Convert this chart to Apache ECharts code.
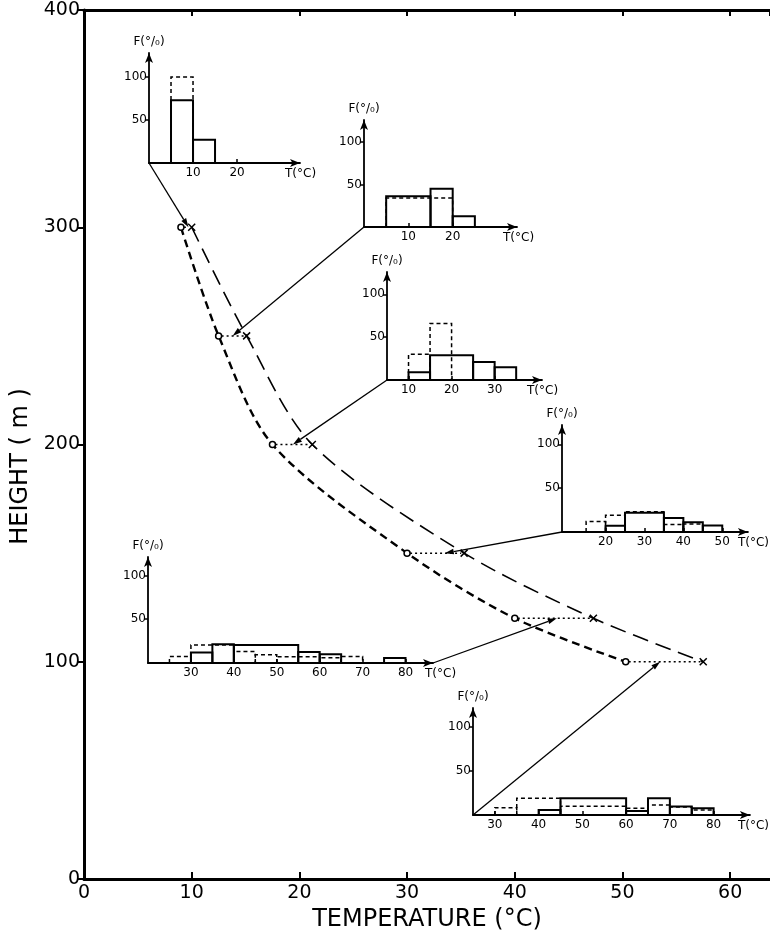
<!DOCTYPE html>
<html><head><meta charset="utf-8">
<script src="https://cdn.jsdelivr.net/npm/echarts@6/dist/echarts.min.js"></script>
<style>html,body{margin:0;padding:0;background:#fff}#c{width:770px;height:938px}</style>
</head><body><div id="c"></div>
<script>
// ---- main chart data ----
const heights = [300, 250, 200, 150, 120, 100];
const tempCircle = [9, 12.5, 17.5, 30, 40, 50.3];
const tempCross = [10, 15.1, 21.2, 35.3, 47.3, 57.5];
const mainXMax = 63.7;
const mainYMax = 400;

// ---- inset data ----
const insetTLabels = [[10, 20], [10, 20], [10, 20, 30], [20, 30, 40, 50], [30, 40, 50, 60, 70, 80], [30, 40, 50, 60, 70, 80]];
const insetFLabels = [50, 100];
const insetTRange = [[0, 34.3], [0, 34.5], [5, 41], [8.8, 56.6], [20, 86.4], [25, 88.3]];
const insetFMax = [128, 125.6, 126, 122, 121, 121];
// bins: [from, to, F%]
const histSolid = [
  [[5, 10, 73], [10, 15, 27]],
  [[5, 15, 36], [15, 20, 45], [20, 25, 12.5]],
  [[10, 15, 9], [15, 25, 29], [25, 30, 21], [30, 35, 15]],
  [[20, 25, 7], [25, 35, 22], [35, 40, 16], [40, 45, 11], [45, 50, 7.5]],
  [[30, 35, 12], [35, 40, 21.5], [40, 55, 20.5], [55, 60, 12.5], [60, 65, 10], [75, 80, 5.7]],
  [[40, 45, 5.7], [45, 60, 19], [60, 65, 4.5], [65, 70, 19], [70, 75, 9.5], [75, 80, 7.6]]
];
const histDashed = [
  [[5, 10, 100]],
  [[5, 20, 34]],
  [[10, 15, 30], [15, 20, 66]],
  [[15, 20, 12], [20, 25, 19], [25, 35, 23], [35, 40, 8.5], [40, 45, 9]],
  [[25, 30, 7.5], [30, 40, 20.5], [40, 45, 13], [45, 50, 9.5], [50, 60, 7], [60, 65, 6], [65, 70, 7.5]],
  [[30, 35, 8.3], [35, 45, 19], [45, 60, 10], [60, 65, 7.6], [65, 70, 11.4], [70, 75, 9], [75, 80, 5.7]]
];
// where each inset's pointer line ends on the main chart [T, height]
const linkTargets = [[9.7, 300], [13.8, 250], [19.4, 200], [33.5, 150], [43.9, 120], [53.5, 100]];
const linkFromEnd = [false, false, false, false, true, false];

// ---- layout (pixels) ----
const insetBoxes = [[149, 53, 151, 110], [364, 120, 153, 107], [387, 272, 155, 108], [562, 425, 196, 107], [148, 557, 285, 106], [473, 708, 279, 107]];
const tNameGap = [-15, -14, -15, -10, -8, -12];

const FONT = 'DejaVu Sans';
const chart = echarts.init(document.getElementById('c'), null, {renderer: 'canvas'});

const grids = [{left: 84, top: 10, right: 0, bottom: 59}];
const xAxes = [
  {gridIndex: 0, type: 'value', min: 0, max: mainXMax, interval: 10,
   axisLine: {lineStyle: {color: '#000', width: 3}},
   axisTick: {inside: true, length: 7, lineStyle: {color: '#000', width: 2}},
   axisLabel: {color: '#000', fontSize: 19, fontFamily: FONT, margin: 5, showMaxLabel: false},
   splitLine: {show: false},
   name: 'TEMPERATURE (°C)', nameLocation: 'middle', nameGap: 25,
   nameTextStyle: {color: '#000', fontSize: 24, fontFamily: FONT}},
  {gridIndex: 0, type: 'value', position: 'top', min: 0, max: mainXMax, interval: 10,
   axisLine: {show: true, onZero: false, lineStyle: {color: '#000', width: 3}},
   axisTick: {show: true, inside: true, length: 6, lineStyle: {color: '#000', width: 2}},
   axisLabel: {show: false}, splitLine: {show: false}}
];
const yAxes = [
  {gridIndex: 0, type: 'value', min: 0, max: mainYMax, interval: 100,
   axisLine: {show: true, lineStyle: {color: '#000', width: 3}},
   axisTick: {show: true, length: 6, lineStyle: {color: '#000', width: 2}},
   axisLabel: {color: '#000', fontSize: 19, fontFamily: FONT, margin: 4},
   splitLine: {show: false},
   name: 'HEIGHT ( m )', nameLocation: 'middle', nameGap: 40,
   nameTextStyle: {color: '#000', fontSize: 24, fontFamily: FONT, padding: [0, 44, 0, 0]}}
];

const series = [
  {type: 'line', xAxisIndex: 0, yAxisIndex: 0, smooth: 0.3,
   data: heights.map((h, i) => [tempCircle[i], h]),
   symbol: 'circle', symbolSize: 6,
   itemStyle: {color: '#fff', borderColor: '#000', borderWidth: 1.5},
   lineStyle: {color: '#000', width: 2.4, type: [8, 5]}, z: 3},
  {type: 'line', xAxisIndex: 0, yAxisIndex: 0, smooth: 0.3,
   data: heights.map((h, i) => [tempCross[i], h]),
   symbol: 'path://M0,0L10,10M10,0L0,10', symbolSize: 7,
   itemStyle: {color: 'none', borderColor: '#000', borderWidth: 1.5},
   lineStyle: {color: '#000', width: 1.6, type: [16, 8]}, z: 3},
  {type: 'custom', xAxisIndex: 0, yAxisIndex: 0, silent: true,
   data: heights.map((h, i) => [tempCircle[i], tempCross[i], h]),
   encode: {x: [0, 1], y: 2},
   renderItem: function (params, api) {
     const a = api.coord([api.value(0), api.value(2)]);
     const b = api.coord([api.value(1), api.value(2)]);
     return {type: 'line', shape: {x1: a[0] + 3, y1: a[1], x2: b[0] - 3, y2: b[1]},
       style: {stroke: '#000', lineWidth: 1.5, lineDash: [2, 3]}};
   }, z: 2}
];

insetBoxes.forEach((b, i) => {
  grids.push({left: b[0], top: b[1], width: b[2], height: b[3]});
  const gi = i + 1;
  xAxes.push({gridIndex: gi, type: 'value', min: insetTRange[i][0], max: insetTRange[i][1],
    axisLine: {show: true, onZero: false, lineStyle: {color: '#000', width: 1.8}, symbol: ['none', 'arrow'], symbolSize: [6, 10]},
    axisTick: {show: true, inside: true, length: 4, customValues: insetTLabels[i], lineStyle: {color: '#000', width: 1.5}},
    axisLabel: {color: '#000', fontSize: 12, fontFamily: FONT, margin: 4, customValues: insetTLabels[i]},
    splitLine: {show: false},
    name: 'T(°C)', nameLocation: 'end', nameGap: tNameGap[i],
    nameTextStyle: {color: '#000', fontSize: 12, fontFamily: FONT, align: 'left', verticalAlign: 'top', padding: [5, 0, 0, 0]}});
  yAxes.push({gridIndex: gi, type: 'value', min: 0, max: insetFMax[i],
    axisLine: {show: true, onZero: false, lineStyle: {color: '#000', width: 1.8}, symbol: ['none', 'arrow'], symbolSize: [6, 10]},
    axisTick: {show: true, inside: false, length: 4, customValues: insetFLabels, lineStyle: {color: '#000', width: 1.5}},
    axisLabel: {color: '#000', fontSize: 12, fontFamily: FONT, margin: 2, customValues: insetFLabels},
    splitLine: {show: false},
    name: 'F(°/₀)', nameLocation: 'end', nameGap: 5,
    nameTextStyle: {color: '#000', fontSize: 12, fontFamily: FONT}});
  [[histSolid[i], false], [histDashed[i], true]].forEach(([bins, dashed]) => {
    series.push({type: 'custom', xAxisIndex: i + 2, yAxisIndex: i + 1, silent: true, data: bins,
      encode: {x: [0, 1], y: 2},
      renderItem: function (params, api) {
        const s = api.value(0), e = api.value(1), v = api.value(2);
        return {type: 'polyline',
          shape: {points: [api.coord([s, 0]), api.coord([s, v]), api.coord([e, v]), api.coord([e, 0])]},
          style: {stroke: '#000', fill: 'none', lineWidth: dashed ? 1.5 : 2, lineDash: dashed ? [4, 3] : null}};
      }, z: dashed ? 5 : 4});
  });
});

chart.setOption({
  backgroundColor: '#fff', animation: false,
  grid: grids, xAxis: xAxes, yAxis: yAxes, series: series
});

const graphics = [];
linkTargets.forEach((t, i) => {
  const src = chart.convertToPixel({xAxisIndex: i + 2, yAxisIndex: i + 1},
    [linkFromEnd[i] ? insetTRange[i][1] : insetTRange[i][0], 0]);
  const dst = chart.convertToPixel({xAxisIndex: 0, yAxisIndex: 0}, t);
  const dx = dst[0] - src[0], dy = dst[1] - src[1];
  const L = Math.sqrt(dx * dx + dy * dy);
  const ux = dx / L, uy = dy / L, nx = -uy, ny = ux;
  const bx = dst[0] - ux * 9, by = dst[1] - uy * 9;
  graphics.push({type: 'line', z: 10, shape: {x1: src[0], y1: src[1], x2: bx, y2: by},
    style: {stroke: '#000', lineWidth: 1.3}});
  graphics.push({type: 'polygon', z: 10,
    shape: {points: [[dst[0], dst[1]], [bx + nx * 2.8, by + ny * 2.8], [bx - nx * 2.8, by - ny * 2.8]]},
    style: {fill: '#000'}});
});
chart.setOption({graphic: graphics});
</script></body></html>
